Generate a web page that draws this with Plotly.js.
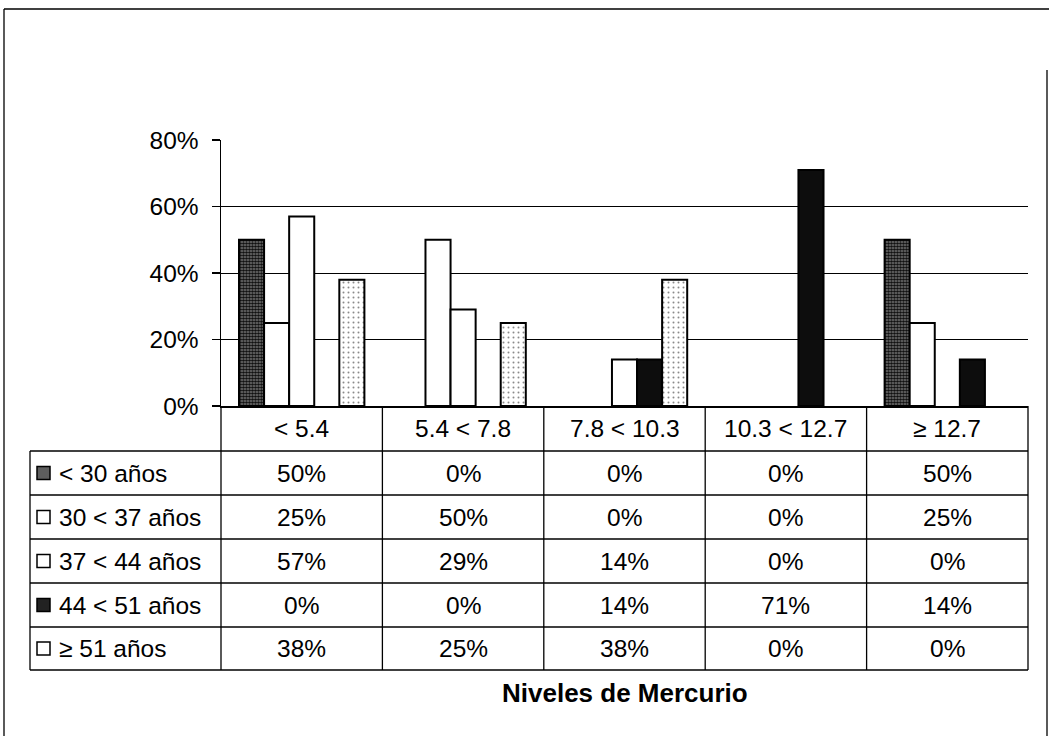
<!DOCTYPE html>
<html>
<head>
<meta charset="utf-8">
<script src="https://cdn.plot.ly/plotly-3.0.1.min.js"></script>
<style>
  html, body { margin: 0; padding: 0; background: #fff; }
  #chart { width: 1049px; height: 736px; }
</style>
</head>
<body>
<div id="chart"></div>
<script>
// Mercury level bands (x categories) and age groups (series)
const categories = ['< 5.4', '5.4 < 7.8', '7.8 < 10.3', '10.3 < 12.7', '\u2265 12.7'];
const seriesNames = ['< 30 años', '30 < 37 años', '37 < 44 años', '44 < 51 años', '\u2265 51 años'];

// Share of each age group per mercury band
const under30 = [0.50, 0.00, 0.00, 0.00, 0.50];
const from30to37 = [0.25, 0.50, 0.00, 0.00, 0.25];
const from37to44 = [0.57, 0.29, 0.14, 0.00, 0.00];
const from44to51 = [0.00, 0.00, 0.14, 0.71, 0.14];
const from51 = [0.38, 0.25, 0.38, 0.00, 0.00];

const yTickVals = [0, 0.2, 0.4, 0.6, 0.8];
const xAxisTitle = 'Niveles de Mercurio';

// ---- page geometry (pixels) ----
const W = 1049, H = 736;
const M = { l: 221, r: 21, t: 140, b: 330 };
const plotW = W - M.l - M.r, plotH = H - M.t - M.b;
const px = x => (x - M.l) / plotW;          // pixel x -> paper x
const py = y => (H - M.b - y) / plotH;      // pixel y -> paper y

const FONT = 'Liberation Sans, Arial, Helvetica, sans-serif';
const fs = 24.5;

const allSeries = [under30, from30to37, from37to44, from44to51, from51];
const styles = [
  { color: '#555555', pattern: { shape: '.', bgcolor: '#7a7a7a', fgcolor: '#111111', size: 3, solidity: 0.65 } },
  { color: '#ffffff' },
  { color: '#ffffff' },
  { color: '#0d0d0d' },
  { color: '#ffffff', pattern: { shape: '.', bgcolor: '#ffffff', fgcolor: '#8a8a8a', size: 5, solidity: 0.12 } }
];

const traces = allSeries.map((vals, i) => {
  // empty bars get no outline so nothing shows on the baseline
  const marker = {
    color: styles[i].color,
    line: { color: '#000', width: vals.map(v => (v > 0 ? 2 : 0)) }
  };
  if (styles[i].pattern) marker.pattern = Object.assign({ fillmode: 'replace' }, styles[i].pattern);
  return { type: 'bar', name: seriesNames[i], x: categories, y: vals, marker: marker, hoverinfo: 'skip' };
});

// ---- data table below the plot ----
const headerTop = H - M.b;           // x-axis line
const rowLines = [451, 495, 539, 583, 627, 670];
const tableLeft = 30, tableRight = W - M.r;
const shapes = [];
const line = (x0, y0, x1, y1, xref, w) => shapes.push({
  type: 'line', xref: xref || 'paper', yref: 'paper',
  x0: x0, y0: y0, x1: x1, y1: y1, line: { color: '#000', width: w || 1.3 }
});

// horizontal rules
rowLines.forEach(y => line(px(tableLeft), py(y), px(tableRight), py(y)));
// left edges and right edge
line(px(tableLeft), py(rowLines[0]), px(tableLeft), py(rowLines[rowLines.length - 1]));
line(px(M.l), py(headerTop), px(M.l), py(rowLines[rowLines.length - 1]));
line(px(tableRight), py(headerTop), px(tableRight), py(rowLines[rowLines.length - 1]));
// column separators between categories
for (let k = 1; k < categories.length; k++) {
  line(k - 0.5, py(headerTop), k - 0.5, py(rowLines[rowLines.length - 1]), 'x');
}

// outer chart frame
line(px(4), py(9), px(W), py(9));
line(px(4), py(9), px(4), py(H));
line(px(1047), py(70), px(1047), py(H));

const annotations = [];
// header: category names
categories.forEach((c, k) => annotations.push({
  xref: 'x', yref: 'paper', x: k, y: py((headerTop + rowLines[0]) / 2),
  text: c, showarrow: false, xanchor: 'center', yanchor: 'middle',
  font: { family: FONT, size: fs, color: '#000' }
}));

// legend keys
const keyFill = ['#5e5e5e', '#ffffff', '#ffffff', '#222222', '#ffffff'];
allSeries.forEach((vals, i) => {
  const yc = (rowLines[i] + rowLines[i + 1]) / 2;
  shapes.push({
    type: 'rect', xref: 'paper', yref: 'paper',
    x0: px(37), x1: px(50), y0: py(yc + 6.5), y1: py(yc - 6.5),
    fillcolor: keyFill[i], line: { color: '#000', width: 1.5 }
  });
  annotations.push({
    xref: 'paper', yref: 'paper', x: px(57), y: py(yc),
    text: seriesNames[i], showarrow: false, xanchor: 'left', yanchor: 'middle',
    font: { family: FONT, size: fs, color: '#000' }
  });
  vals.forEach((v, k) => annotations.push({
    xref: 'x', yref: 'paper', x: k, y: py(yc),
    text: Math.round(v * 100) + '%', showarrow: false, xanchor: 'center', yanchor: 'middle',
    font: { family: FONT, size: fs, color: '#000' }
  }));
});

// axis title
annotations.push({
  xref: 'paper', yref: 'paper', x: 0.5, y: py(693),
  text: '<b>' + xAxisTitle + '</b>', showarrow: false, xanchor: 'center', yanchor: 'middle',
  font: { family: FONT, size: 26, color: '#000' }
});

const layout = {
  width: W, height: H,
  margin: { l: M.l, r: M.r, t: M.t, b: M.b, pad: 0 },
  paper_bgcolor: '#fff', plot_bgcolor: '#fff',
  showlegend: false,
  barmode: 'group', bargap: 0.223, bargroupgap: 0,
  font: { family: FONT, size: fs, color: '#000' },
  xaxis: {
    type: 'category', range: [-0.5, categories.length - 0.5],
    showticklabels: false, ticks: '', showgrid: false, zeroline: false,
    showline: true, linecolor: '#000', linewidth: 1.5
  },
  yaxis: {
    range: [0, 0.8], tickvals: yTickVals, tickformat: '.0%',
    showgrid: true, gridcolor: '#000', gridwidth: 1,
    zeroline: false, showline: true, linecolor: '#000', linewidth: 1.5,
    ticks: 'outside', ticklen: 8, tickcolor: '#000', tickwidth: 1.3,
    ticklabelstandoff: 8,
    tickfont: { family: FONT, size: fs, color: '#000' }
  },
  shapes: shapes,
  annotations: annotations
};

Plotly.newPlot('chart', traces, layout, { staticPlot: true, displayModeBar: false });
</script>
</body>
</html>
